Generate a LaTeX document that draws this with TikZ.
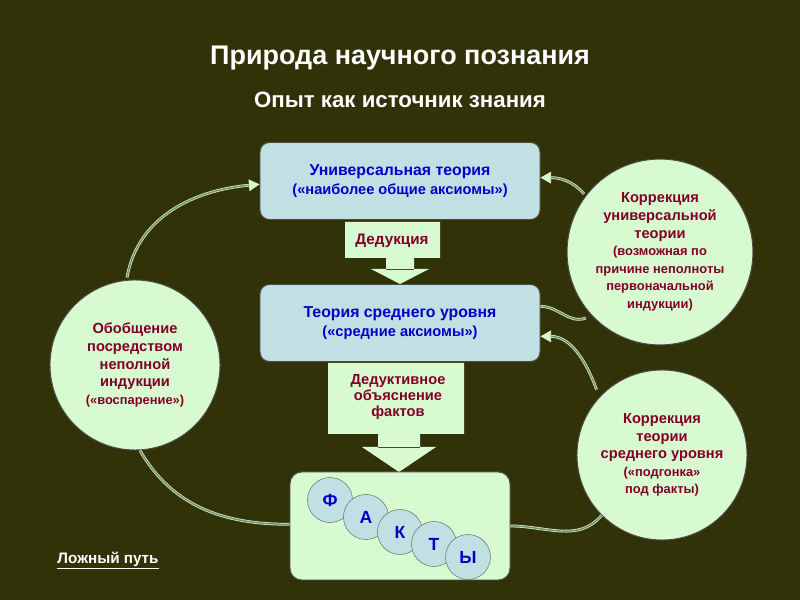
\documentclass[tikz,border=0pt]{standalone}
\usepackage{fontspec}
\setmainfont{Liberation Sans}
\usetikzlibrary{arrows.meta}
\definecolor{bg}{RGB}{50,50,8}
\definecolor{boxblue}{RGB}{192,224,228}
\definecolor{lgreen}{RGB}{216,250,208}
\definecolor{tblue}{RGB}{0,0,200}
\definecolor{tred}{RGB}{128,0,40}
\definecolor{lline}{RGB}{200,235,180}
\begin{document}
\begin{tikzpicture}[x=0.03cm,y=-0.03cm,
  theory/.style={draw=black!70,line width=0.8pt,fill=boxblue,rounded corners=8pt,text=tblue,font=\bfseries\fontsize{13.5}{16}\selectfont,align=center},
  arrowbox/.style={fill=lgreen,text=tred,font=\bfseries\fontsize{12.5}{13.5}\selectfont,align=center},
  circ/.style={circle,draw=black!70,line width=0.8pt,fill=lgreen,text=tred,align=center,font=\bfseries\fontsize{12.5}{15}\selectfont},
  fact/.style={circle,draw=black!60,fill=boxblue,minimum size=1.35cm,text=tblue,font=\bfseries\fontsize{15}{15}\selectfont},
  conn/.style={draw=lline!70!white,double=lline!60!black,double distance=1.2pt,line width=0.6pt,-{Triangle[length=9pt,width=10pt,fill=lgreen]}},
  connn/.style={draw=lline!70!white,double=lline!60!black,double distance=1.2pt,line width=0.6pt}]
\fill[bg] (0,0) rectangle (800,600);
\useasboundingbox (0,0) rectangle (800,600);
\node[text=white,font=\bfseries\fontsize{23}{26}\selectfont] (t1) at (400,58) {Природа научного познания};
\node[text=white,font=\bfseries\fontsize{19}{22}\selectfont] (t2) at (400,100) {Опыт как источник знания};
% deduction arrow
\fill[lgreen] (345,222) rectangle (440,258) (386,257) rectangle (414,270) (371,269) -- (429,269) -- (400,284) -- cycle;
\node[arrowbox,font=\bfseries\fontsize{13}{14}\selectfont] (d1) at (392,241) {Дедукция};
% second arrow
\fill[lgreen] (328,363) rectangle (464,434) (378,433) rectangle (420,448) (362,447) -- (436,447) -- (399,472) -- cycle;
\node[arrowbox] (d2) at (398,397) {Дедуктивное\\объяснение\\фактов};
\node[theory,minimum width=280*0.03cm,minimum height=77*0.03cm] (top) at (400,181) {Универсальная теория\\{\fontsize{12.5}{15}\selectfont(«наиболее общие аксиомы»)}};
\node[theory,minimum width=280*0.03cm,minimum height=77*0.03cm] (mid) at (400,323) {Теория среднего уровня\\{\fontsize{12.5}{15}\selectfont(«средние аксиомы»)}};
\node[draw=black!70,line width=0.8pt,fill=lgreen,rounded corners=10pt,minimum width=220*0.03cm,minimum height=108*0.03cm] (facts) at (400,526) {};
\node[fact] (f1) at (330,500) {Ф};
\node[fact] (f2) at (366,517) {А};
\node[fact] (f3) at (400,532) {К};
\node[fact] (f4) at (434,544) {Т};
\node[fact] (f5) at (468,557) {Ы};
\node[circ,minimum size=170*0.03cm] (lc) at (135,365) {Обобщение\\посредством\\неполной\\индукции\\{\fontsize{11}{14}\selectfont(«воспарение»)}};
\node[circ,minimum size=184*0.03cm] (rc1) at (660,252) {Коррекция\\универсальной\\теории\\{\fontsize{11}{13.5}\selectfont(возможная по}\\{\fontsize{11}{13.5}\selectfont причине неполноты}\\{\fontsize{11}{13.5}\selectfont первоначальной}\\{\fontsize{11}{13.5}\selectfont индукции)}};
\node[circ,minimum size=170*0.03cm] (rc2) at (662,455) {Коррекция\\теории\\среднего уровня\\{\fontsize{11}{13.5}\selectfont(«подгонка»}\\{\fontsize{11}{13.5}\selectfont под факты)}};
% connectors
\draw[conn] (lc.north) ++(-8,-2) to[out=80,in=185] ([yshift=-0.1cm]top.west);
\draw[connn] (lc.south) ++(5,0) to[out=-60,in=180] ([yshift=0.05cm]facts.west);
\draw[conn] (rc1.north west) ++(-10,8) to[out=130,in=0] ([yshift=0.1cm]top.east);
\draw[connn] (rc1.south west) ++(-8,0) to[out=200,in=0] ([yshift=0.5cm]mid.east);
\draw[conn] (rc2.north west) ++(-5,-5) to[out=110,in=0] ([yshift=-0.4cm]mid.east);
\draw[connn] (facts.east) to[out=0,in=230] (rc2.south west);
\node[text=white,font=\bfseries\fontsize{13}{15}\selectfont] (lp) at (108,561) {\underline{Ложный путь}};
\end{tikzpicture}
\end{document}
